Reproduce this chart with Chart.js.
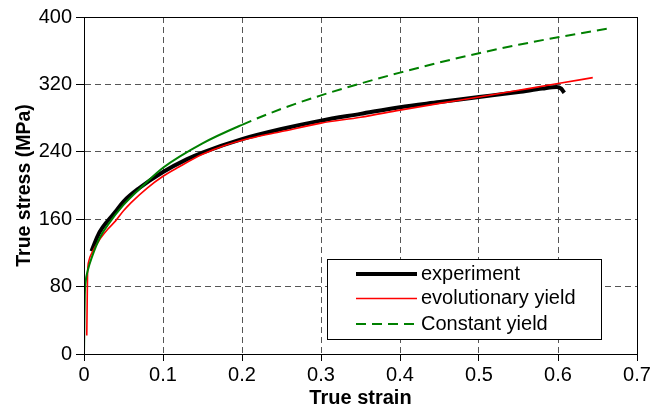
<!DOCTYPE html>
<html>
<head>
<meta charset="utf-8">
<script src="https://cdn.jsdelivr.net/npm/chart.js@4.4.1/dist/chart.umd.min.js"></script>
<style>
  body { margin: 0; background: #fff; }
  #wrap { width: 654px; height: 413px; }
</style>
</head>
<body>
<div id="wrap"><canvas id="chart"></canvas></div>
<script>
const xTicks = ["0", "0.1", "0.2", "0.3", "0.4", "0.5", "0.6", "0.7"];
const yTicks = ["0", "80", "160", "240", "320", "400"];

const expStrain = [0.0095, 0.015, 0.02, 0.03, 0.04, 0.05, 0.07, 0.1, 0.13, 0.15, 0.2, 0.25, 0.3, 0.35, 0.4, 0.45, 0.5, 0.55, 0.58, 0.598, 0.604, 0.608];
const expStress = [122, 135, 145, 158, 169, 181, 197, 216, 231, 239, 255, 267, 277, 285, 293, 299, 305, 311, 315, 317, 315, 310];

const evoStrain = [0.0035, 0.004, 0.0045, 0.006, 0.01, 0.02, 0.03, 0.04, 0.05, 0.06, 0.08, 0.1, 0.12, 0.15, 0.18, 0.21, 0.25, 0.3, 0.35, 0.4, 0.45, 0.5, 0.55, 0.6, 0.644];
const evoStress = [22, 60, 95, 110, 120, 136, 148, 158, 170, 180, 197, 211, 222, 237, 248, 256, 264, 274, 281, 289.5, 297.5, 305, 313, 321, 328];

const constStrain = [0, 0.0005, 0.001, 0.002, 0.005, 0.01, 0.02, 0.03, 0.05, 0.075, 0.1, 0.15, 0.2, 0.25, 0.3, 0.35, 0.4, 0.45, 0.5, 0.55, 0.6, 0.668];
const constStress = [0, 40, 70, 85, 100, 115, 138, 153, 177, 200, 221, 250, 272, 291, 307, 321, 334, 346, 357, 367, 376, 387];

const FONT = "'Liberation Sans', Arial, sans-serif";

function pts(xs, ys) {
  return xs.map((x, i) => ({ x: x, y: ys[i] }));
}

// box around plot + legend inside the plot area
const frame = {
  id: "frame",
  afterDraw(chart) {
    const ctx = chart.ctx;
    const a = chart.chartArea;
    ctx.save();
    ctx.strokeStyle = "#000";
    ctx.lineWidth = 1;
    ctx.strokeRect(a.left + 0.5, a.top + 0.5, a.right - a.left, a.bottom - a.top);

    const bx = a.left + 243, by = 259, bw = 274, bh = 80;
    ctx.fillStyle = "#fff";
    ctx.fillRect(bx, by, bw, bh);
    ctx.strokeRect(bx + 0.5, by + 0.5, bw, bh);
    const rows = [274, 298.5, 324];
    ctx.font = "20px " + FONT;
    ctx.textBaseline = "middle";
    chart.data.datasets.forEach((ds, i) => {
      ctx.beginPath();
      ctx.strokeStyle = ds.borderColor;
      ctx.lineWidth = ds.borderWidth;
      ctx.setLineDash(ds.legendDash || []);
      ctx.moveTo(bx + 29, rows[i]);
      ctx.lineTo(bx + 90, rows[i]);
      ctx.stroke();
      ctx.setLineDash([]);
      ctx.fillStyle = "#000";
      ctx.fillText(ds.label, bx + 94, rows[i]);
    });
    ctx.restore();
  }
};

new Chart(document.getElementById("chart"), {
  type: "line",
  data: {
    datasets: [
      {
        label: "experiment",
        data: pts(expStrain, expStress),
        borderColor: "#000",
        borderWidth: 4,
        order: 3,
        cubicInterpolationMode: "monotone"
      },
      {
        label: "evolutionary yield",
        data: pts(evoStrain, evoStress),
        borderColor: "#ff0000",
        borderWidth: 1.6,
        order: 2,
        cubicInterpolationMode: "monotone"
      },
      {
        label: "Constant yield",
        data: pts(constStrain, constStress),
        borderColor: "#008000",
        borderWidth: 2,
        legendDash: [10, 6],
        order: 1,
        cubicInterpolationMode: "monotone",
        segment: {
          borderDash: c => (c.p0.parsed.x < 0.19 ? [] : [10, 6])
        }
      }
    ]
  },
  options: {
    responsive: true,
    maintainAspectRatio: false,
    animation: false,
    parsing: true,
    elements: { point: { radius: 0 } },
    layout: { padding: { left: 0, right: 17, top: 17, bottom: 0 } },
    plugins: {
      legend: { display: false },
      tooltip: { enabled: false }
    },
    scales: {
      x: {
        type: "linear",
        min: 0,
        max: 0.7,
        afterFit: s => { s.height = 59; },
        ticks: {
          stepSize: 0.1,
          color: "#000",
          font: { family: FONT, size: 20 },
          padding: 2,
          maxRotation: 0,
          callback: (v, i) => xTicks[i]
        },
        grid: { color: "#555", lineWidth: 1, tickLength: 7, tickColor: "#000", tickBorderDash: [] },
        border: { display: true, color: "#000", width: 1, dash: [6, 4] },
        title: {
          display: true,
          text: "True strain",
          color: "#000",
          font: { family: FONT, size: 20, weight: "bold" },
          padding: { top: 0, bottom: 3 }
        }
      },
      y: {
        type: "linear",
        min: 0,
        max: 400,
        afterFit: s => { s.width = 84; },
        ticks: {
          stepSize: 80,
          color: "#000",
          font: { family: FONT, size: 20 },
          padding: 4,
          callback: (v, i) => yTicks[i]
        },
        grid: { color: "#555", lineWidth: 1, tickLength: 8, tickColor: "#000", tickBorderDash: [] },
        border: { display: true, color: "#000", width: 1, dash: [6, 4] },
        title: {
          display: true,
          text: "True stress (MPa)",
          color: "#000",
          font: { family: FONT, size: 19.5, weight: "bold" },
          padding: { top: 13, bottom: 0 }
        }
      }
    }
  },
  plugins: [frame]
});
</script>
</body>
</html>
